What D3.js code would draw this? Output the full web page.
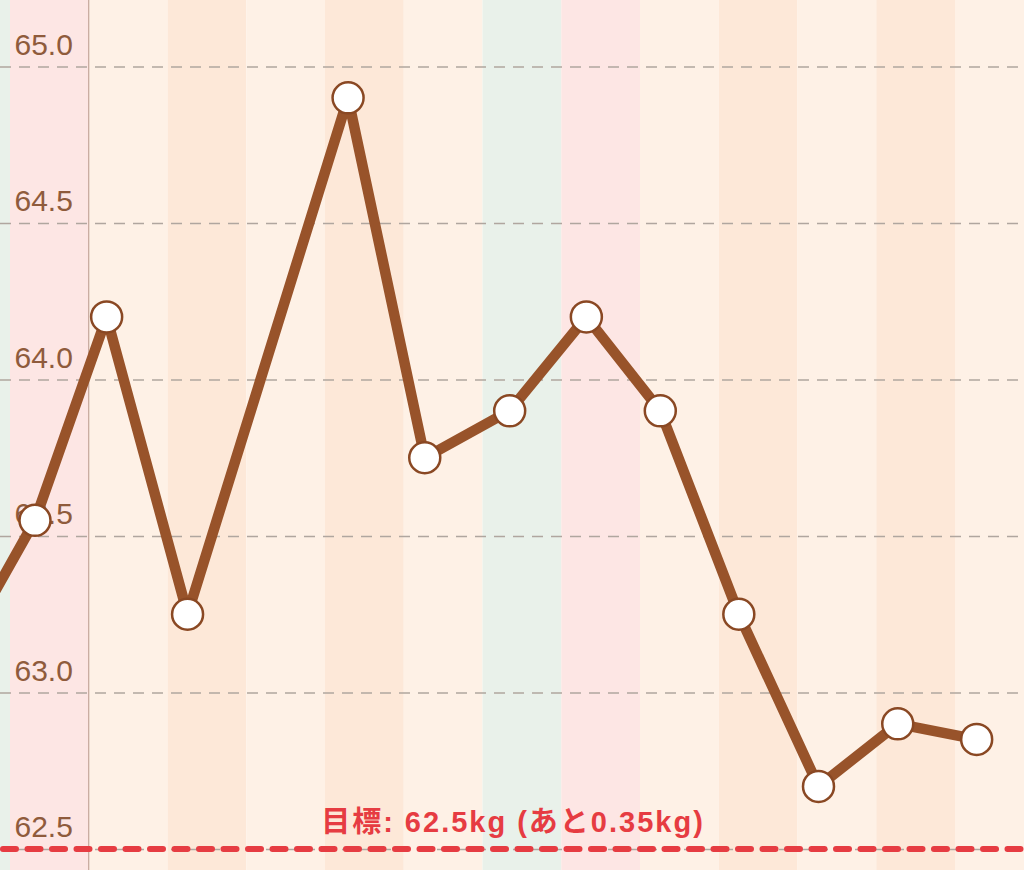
<!DOCTYPE html>
<html>
<head>
<meta charset="utf-8">
<script src="https://cdn.jsdelivr.net/npm/d3@7"></script>
<style>
  html, body { margin: 0; padding: 0; background: #fff; }
  svg { display: block; }
</style>
</head>
<body>
<svg id="chart" width="1024" height="870"></svg>
<script>
// ---- data ----
const measureTimes = [
  "2019-06-29 07:30", "2019-06-30 07:37", "2019-07-01 05:27", "2019-07-02 06:07",
  "2019-07-04 07:02", "2019-07-05 06:24", "2019-07-06 08:17", "2019-07-07 07:39",
  "2019-07-08 06:11", "2019-07-09 06:07", "2019-07-10 06:24", "2019-07-11 06:33",
  "2019-07-12 06:36"
];
const weights = [63.1, 63.55, 64.2, 63.25, 64.9, 63.75, 63.9, 64.2, 63.9, 63.25, 62.7, 62.9, 62.85];
const yTicks = [62.5, 63.0, 63.5, 64.0, 64.5, 65.0];
const targetWeight = 62.5;
const targetLabel = "目標: 62.5kg (あと0.35kg)";
const bandStart = "2019-06-29", bandEnd = "2019-07-13";
const viewStart = "2019-06-30", viewEnd = "2019-07-13";
const monthStart = "2019-07-01";

// ---- setup ----
const W = 1024, H = 870;
const parseT = d3.timeParse("%Y-%m-%d %H:%M");
const parseD = d3.timeParse("%Y-%m-%d");
const data = measureTimes.map((t, i) => ({ date: parseT(t), v: weights[i] }));

const x = d3.scaleTime().domain([parseD(viewStart), parseD(viewEnd)]).range([10, 10 + 13 * 78.75]);
const y = d3.scaleLinear().domain([62.5, 65.0]).range([849, 66.5]);

const svg = d3.select("#chart");

// day bands (Sat green, Sun pink, weekdays alternate)
const dayColor = d => {
  const wd = d.getDay();
  if (wd === 6) return "#e9f1ea";
  if (wd === 0) return "#fde6e4";
  return (wd === 2 || wd === 4) ? "#fde8d8" : "#fef1e6";
};
const days = d3.timeDay.range(parseD(bandStart), parseD(bandEnd));
svg.append("g").selectAll("rect").data(days).join("rect")
  .attr("x", d => x(d))
  .attr("y", 0)
  .attr("width", d => x(d3.timeDay.offset(d, 1)) - x(d))
  .attr("height", H)
  .attr("fill", dayColor);

// month boundary line
svg.append("line")
  .attr("x1", x(parseD(monthStart))).attr("x2", x(parseD(monthStart)))
  .attr("y1", 0).attr("y2", H)
  .attr("stroke", "#b8978a").attr("stroke-width", 1);

// gridlines
const grid = svg.append("g").attr("transform", "translate(0,0)")
  .call(d3.axisRight(y).tickValues(yTicks).tickSize(W).tickFormat(""));
grid.select(".domain").remove();
grid.selectAll(".tick line")
  .attr("stroke", "#b0a69f")
  .attr("stroke-width", 1.4)
  .attr("stroke-dasharray", "11,8");

// y labels
const yl = svg.append("g").attr("transform", "translate(14.5,0)")
  .call(d3.axisRight(y).tickValues(yTicks).tickSize(0).tickPadding(0).tickFormat(d3.format(".1f")));
yl.select(".domain").remove();
yl.selectAll(".tick text")
  .attr("x", 0)
  .attr("dy", "-12.5px")
  .attr("text-anchor", "start")
  .attr("fill", "#8f5b3c")
  .style("font-family", "'Liberation Sans', Arial, Helvetica, sans-serif")
  .style("font-size", "30px");

// target line
svg.append("line")
  .attr("x1", 3).attr("x2", W)
  .attr("y1", y(targetWeight)).attr("y2", y(targetWeight))
  .attr("stroke", "#e63c42")
  .attr("stroke-width", 6)
  .attr("stroke-linecap", "round")
  .attr("stroke-dasharray", "13,11.5");

svg.append("text")
  .attr("x", 513)
  .attr("y", y(targetWeight) - 17)
  .attr("text-anchor", "middle")
  .attr("fill", "#e63c42")
  .style("font-family", "'Liberation Sans', 'Noto Sans CJK JP', sans-serif")
  .style("font-weight", "bold")
  .style("font-size", "29px")
  .style("letter-spacing", "2px")
  .text(targetLabel);

// weight line
const line = d3.line().x(d => x(d.date)).y(d => y(d.v));
svg.append("path")
  .datum(data)
  .attr("d", line)
  .attr("fill", "none")
  .attr("stroke", "#98532a")
  .attr("stroke-width", 10.5)
  .attr("stroke-linejoin", "round");

// markers
svg.append("g").selectAll("circle").data(data).join("circle")
  .attr("cx", d => x(d.date))
  .attr("cy", d => y(d.v))
  .attr("r", 15.5)
  .attr("fill", "#ffffff")
  .attr("stroke", "#8a4823")
  .attr("stroke-width", 2.5);
</script>
</body>
</html>
